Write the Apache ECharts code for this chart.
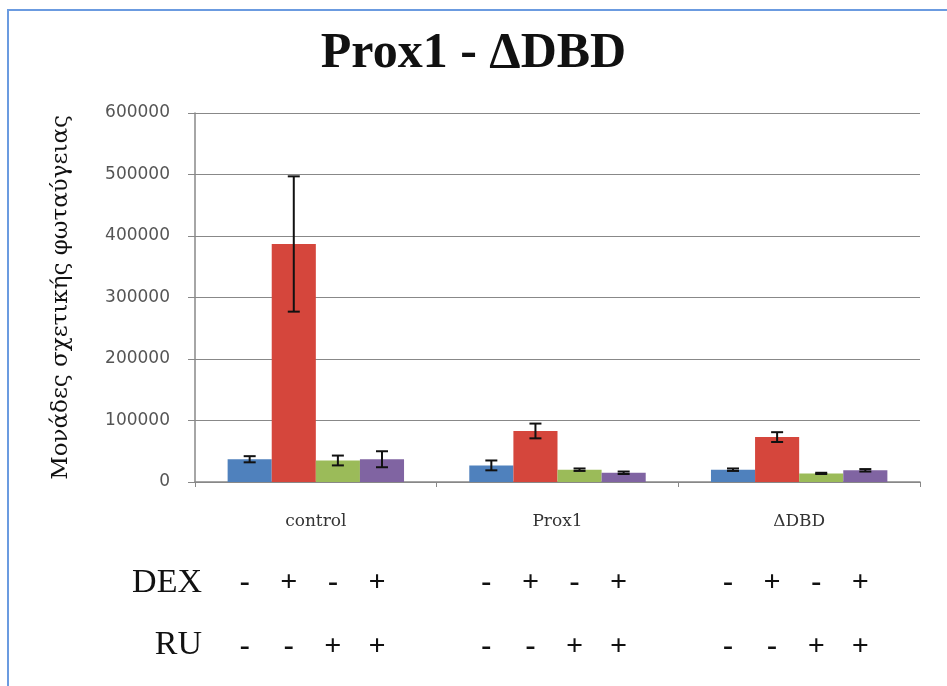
<!DOCTYPE html>
<html lang="en">
<head>
    <meta charset="UTF-8">
    <title>Prox1 - ΔDBD</title>
    <script src="https://cdn.jsdelivr.net/npm/echarts@6/dist/echarts.min.js"></script>
    <style type="text/css">
        html, body {
            margin: 0;
            padding: 0;
            width: 947px;
            height: 686px;
            background: #fff;
        }
        #main {
            width: 947px;
            height: 686px;
        }
    </style>
</head>
<body>
<div id="main"></div>
<script type="text/javascript">
    // 数据
    var categories = ['control', 'Prox1', 'ΔDBD'];
    var yTicks = [0, 100000, 200000, 300000, 400000, 500000, 600000];

    var seriesNames = ['DEX- RU-', 'DEX+ RU-', 'DEX- RU+', 'DEX+ RU+'];
    var blueVals = [37000, 27000, 20000];
    var redVals = [387000, 83000, 73000];
    var greenVals = [35000, 20000, 14000];
    var purpleVals = [37000, 15000, 19000];

    var blueErr = [5000, 8000, 2000];
    var redErr = [110000, 12000, 8000];
    var greenErr = [8000, 2000, 1000];
    var purpleErr = [13000, 2000, 2000];

    var dexSigns = ['-', '+', '-', '+'];
    var ruSigns = ['-', '-', '+', '+'];

    var colors = ['#4f81bd', '#d5463c', '#9bbb59', '#8064a2'];
    var gapRatio = 0.27;

    var allVals = [blueVals, redVals, greenVals, purpleVals];
    var allErr = [blueErr, redErr, greenErr, purpleErr];

    var serif = '"Liberation Serif", "DejaVu Serif", serif';

    // x 位置：某类别内第 k 根柱子的中心
    function barCenter(api, cat, k) {
        var band = api.size([1, 0])[0];
        var bw = band * (1 - gapRatio) / 4;
        return api.coord([cat, 0])[0] - band * (1 - gapRatio) / 2 + bw * (k + 0.5);
    }

    function errorSeries(k) {
        var data = [];
        for (var i = 0; i < categories.length; i++) {
            data.push([i, allVals[k][i], allErr[k][i]]);
        }
        return {
            type: 'custom',
            z: 5,
            data: data,
            encode: {x: 0, y: 1},
            renderItem: function (params, api) {
                var cat = api.value(0);
                var v = api.value(1);
                var e = api.value(2);
                var cx = barCenter(api, cat, k);
                var top = api.coord([cat, v + e])[1];
                var bot = api.coord([cat, v - e])[1];
                var style = {stroke: '#111', lineWidth: 2};
                return {
                    type: 'group',
                    children: [
                        {type: 'line', shape: {x1: cx, y1: top, x2: cx, y2: bot}, style: style},
                        {type: 'line', shape: {x1: cx - 6, y1: top, x2: cx + 6, y2: top}, style: style},
                        {type: 'line', shape: {x1: cx - 6, y1: bot, x2: cx + 6, y2: bot}, style: style}
                    ]
                };
            }
        };
    }

    // DEX / RU 行的 +/- 符号
    function signSeries(signs, y) {
        var data = [];
        for (var i = 0; i < categories.length; i++) {
            for (var k = 0; k < 4; k++) {
                data.push([i, 0, k, signs[k]]);
            }
        }
        return {
            type: 'custom',
            clip: false,
            silent: true,
            data: data,
            encode: {x: 0, y: 1},
            renderItem: function (params, api) {
                var cat = api.value(0);
                var k = api.value(2);
                var s = data[params.dataIndex][3];
                return {
                    type: 'text',
                    style: {
                        text: s,
                        x: barCenter(api, cat, k) - 5,
                        y: y,
                        align: 'center',
                        verticalAlign: 'middle',
                        fill: '#111',
                        font: 'bold 30px ' + serif
                    }
                };
            }
        };
    }

    var series = [];
    for (var k = 0; k < 4; k++) {
        series.push({
            name: seriesNames[k],
            type: 'bar',
            data: allVals[k],
            barGap: 0,
            barCategoryGap: (gapRatio * 100) + '%',
            itemStyle: {color: colors[k]}
        });
    }
    for (var k2 = 0; k2 < 4; k2++) {
        series.push(errorSeries(k2));
    }
    series.push(signSeries(dexSigns, 583));
    series.push(signSeries(ruSigns, 647));

    var myChart = echarts.init(document.getElementById('main'));
    var option = {
        backgroundColor: '#fff',
        animation: false,
        title: {
            text: 'Prox1 - ΔDBD',
            left: 'center',
            top: 24,
            textStyle: {
                fontFamily: serif,
                fontSize: 50,
                fontWeight: 'bold',
                color: '#111'
            }
        },
        grid: {
            left: 195,
            right: 27,
            top: 113,
            bottom: 204
        },
        xAxis: {
            type: 'category',
            data: categories,
            axisLine: {lineStyle: {color: '#888', width: 1.5}},
            axisTick: {show: true, length: 5, lineStyle: {color: '#888'}},
            axisLabel: {
                margin: 31,
                fontFamily: '"DejaVu Serif", serif',
                fontSize: 17,
                color: '#333'
            }
        },
        yAxis: {
            type: 'value',
            min: 0,
            max: 600000,
            interval: 100000,
            name: 'Μονάδες σχετικής φωταύγειας',
            nameLocation: 'middle',
            nameGap: 122,
            nameTextStyle: {
                fontFamily: '"DejaVu Serif", serif',
                fontSize: 23,
                color: '#111'
            },
            axisLine: {show: true, lineStyle: {color: '#888', width: 1.5}},
            axisTick: {show: true, length: 7, lineStyle: {color: '#888'}},
            splitLine: {lineStyle: {color: '#888', width: 1.2}},
            axisLabel: {
                margin: 25,
                fontFamily: '"DejaVu Sans", sans-serif',
                fontSize: 17,
                color: '#555',
                formatter: function (v) {
                    return yTicks.indexOf(v) >= 0 ? String(v) : '';
                }
            }
        },
        graphic: [
            {
                type: 'polyline',
                shape: {points: [[8, 686], [8, 10], [947, 10]]},
                style: {stroke: '#6b9be0', lineWidth: 2, fill: null}
            },
            {
                type: 'text',
                right: 947 - 202,
                top: 566,
                style: {text: 'DEX', font: '34px ' + serif, fill: '#111'}
            },
            {
                type: 'text',
                right: 947 - 202,
                top: 628,
                style: {text: 'RU', font: '34px ' + serif, fill: '#111'}
            }
        ],
        series: series
    };
    myChart.setOption(option);
</script>
</body>
</html>
